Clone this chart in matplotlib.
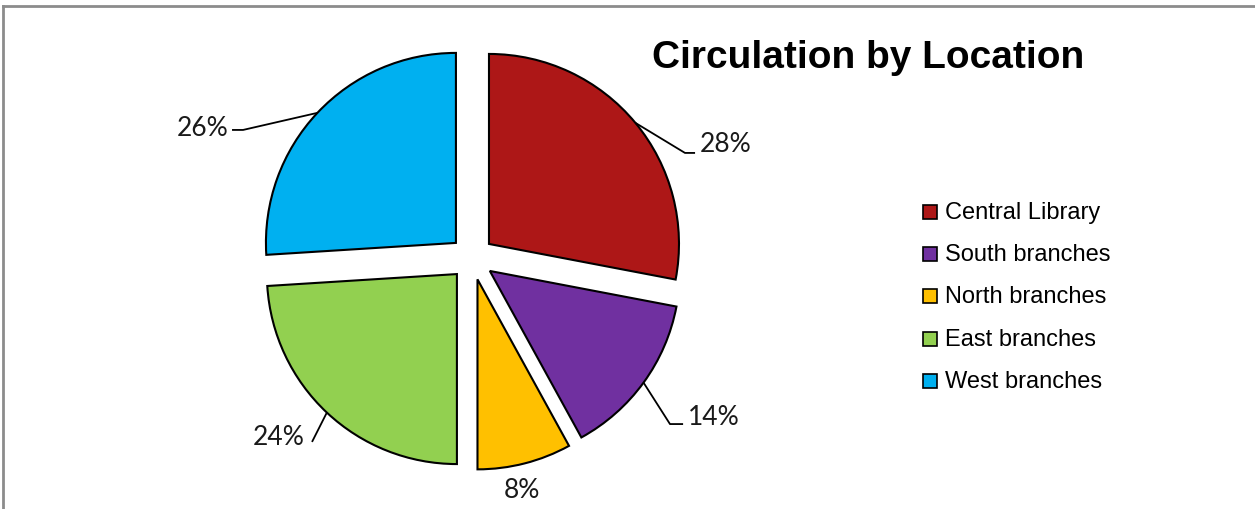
import numpy as np
import matplotlib.pyplot as plt
from matplotlib.lines import Line2D
from matplotlib.patches import Rectangle

locations = ['Central Library', 'South branches', 'North branches', 'East branches', 'West branches']
shares = [28, 14, 8, 24, 26]
colors = ['#AD1717', '#7030A0', '#FFC000', '#92D050', '#00B0F0']

W, H = 1255, 510
cx, cy, R = 472, 259, 190  # pie centre / radius in pixels
explode = 0.116

fig = plt.figure(figsize=(W / 100, H / 100), dpi=100)
ax = fig.add_axes([0, 0, 1, 1])

wedges, _ = ax.pie(shares, explode=[explode] * len(shares), startangle=90,
                   counterclock=False, colors=colors, radius=1,
                   wedgeprops=dict(edgecolor='black', linewidth=1.5))
ax.set_xlim(-cx / R, (W - cx) / R)
ax.set_ylim(-(H - cy) / R, cy / R)
ax.set_aspect('auto')
ax.axis('off')

# label text positions, leader elbow points and alignment (data units)
label_pos = [(1.20, 0.600), (1.137, -0.832), (0.263, -1.216), (-0.879, -0.937), (-1.284, 0.689)]
leaders = [[(1.121, 0.553), (1.174, 0.553)],
           [(1.042, -0.874), (1.111, -0.874)],
           [],
           [(-0.842, -0.968)],
           [(-1.205, 0.674), (-1.263, 0.674)]]
aligns = ['left', 'left', 'center', 'right', 'right']

for w, v, pos, pts, ha in zip(wedges, shares, label_pos, leaders, aligns):
    mid = np.deg2rad((w.theta1 + w.theta2) / 2)
    ox, oy = w.center
    if pts:
        anchor = (ox + np.cos(mid), oy + np.sin(mid))
        xs, ys = zip(anchor, *pts)
        ax.plot(xs, ys, color='black', linewidth=1.3, solid_capstyle='butt')
    ax.text(pos[0], pos[1], f'{v}%', ha=ha, va='center', fontsize=19,
            family=['Lato', 'DejaVu Sans'], color='#1A1A1A')

fig.text(868 / W, 1 - 68 / H, 'Circulation by Location', ha='center', va='baseline',
         fontsize=28, fontweight='bold', family='Liberation Sans')

# legend
for i, (lab, col) in enumerate(zip(locations, colors)):
    y = 213 + i * 42.2
    fig.add_artist(Rectangle((923 / W, 1 - (y + 7) / H), 14 / W, 14 / H,
                             facecolor=col, edgecolor='black', linewidth=1.2,
                             transform=fig.transFigure))
    fig.text(945 / W, 1 - y / H, lab, ha='left', va='center', fontsize=17,
             family='Liberation Sans')

# outer frame (left and top edges)
fig.add_artist(Line2D([2.5 / W, 2.5 / W], [0, 1 - 6.5 / H], color='#8C8C8C', linewidth=2))
fig.add_artist(Line2D([2.5 / W, 1], [1 - 6.5 / H, 1 - 6.5 / H], color='#8C8C8C', linewidth=2))

fig.savefig('out.png', dpi=100)
